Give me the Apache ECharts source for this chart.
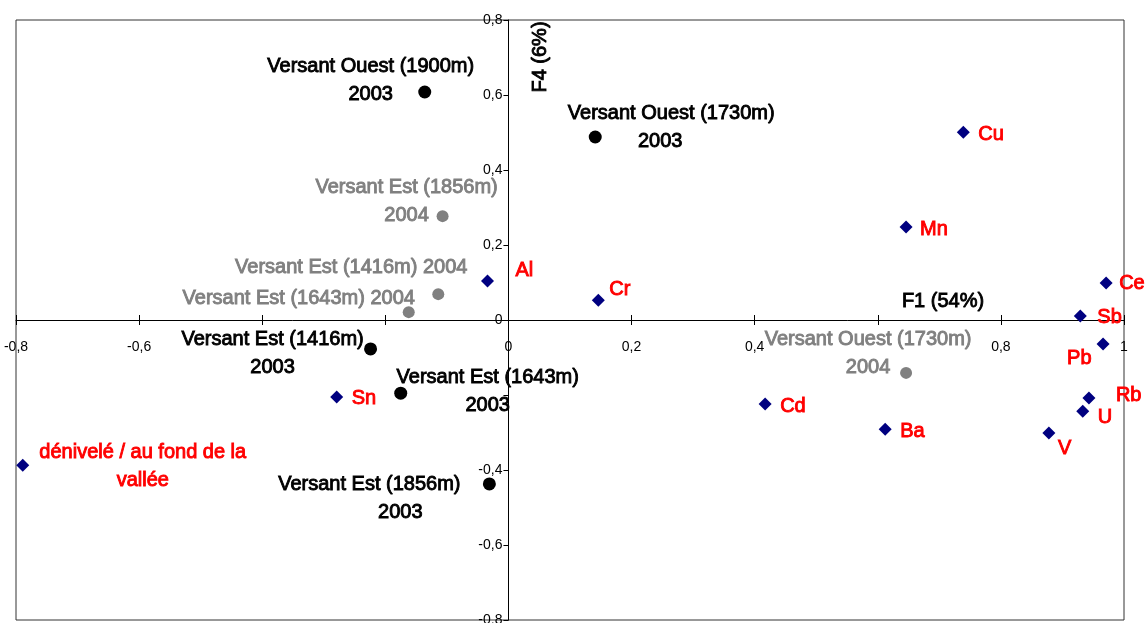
<!DOCTYPE html>
<html><head><meta charset="utf-8">
<script src="https://cdn.jsdelivr.net/npm/echarts@6/dist/echarts.min.js"></script>
<style>html,body{margin:0;padding:0;background:#fff}#c{width:1148px;height:623px}</style>
</head><body><div id="c"></div>
<script>
// ---- Data ----
const obs2003Labels = ["Versant Ouest (1900m)\n2003", "Versant Ouest (1730m)\n2003", "Versant Est (1416m)\n2003", "Versant Est (1643m)\n2003", "Versant Est (1856m)\n2003"];
const obs2003X = [-0.136, 0.141, -0.224, -0.175, -0.031];
const obs2003Y = [0.608, 0.488, -0.077, -0.195, -0.437];

const obs2004Labels = ["Versant Est (1856m)\n2004", "Versant Est (1416m) 2004", "Versant Est (1643m) 2004", "Versant Ouest (1730m)\n2004"];
const obs2004X = [-0.107, -0.114, -0.162, 0.646];
const obs2004Y = [0.277, 0.069, 0.021, -0.141];

const varLabels = ["Al", "Cr", "Cu", "Mn", "Ce", "Sb", "Pb", "Rb", "U", "V", "Ba", "Cd", "Sn", "dénivelé / au fond de la\nvallée"];
const varX = [-0.034, 0.146, 0.739, 0.646, 0.971, 0.929, 0.966, 0.943, 0.933, 0.878, 0.612, 0.417, -0.279, -0.789];
const varY = [0.104, 0.053, 0.501, 0.248, 0.099, 0.011, -0.064, -0.208, -0.243, -0.301, -0.291, -0.224, -0.205, -0.387];

const axisX = {min: -0.8, max: 1, interval: 0.2};
const axisY = {min: -0.8, max: 0.8, interval: 0.2};
// tick labels that are covered by data labels in the original picture
const hiddenXTickLabels = [-0.4, -0.2, 0.6];
const hiddenYTickLabels = [-0.2];
const xAxisTitle = "F1 (54%)";
const yAxisTitle = "F4 (6%)";

// ---- Label placement (style, not data) ----
const obs2003Offsets = [[-54, -12], [76, -10], [-98, 5], [87, -2], [-120, 15]];
const obs2003Line2Shift = [0, -22, 0, 0, 62];
const obs2004Offsets = [[-36, -15], [-87, -27], [-110, -14], [-38, -19]];
const varOffsets = [[28, -11], [11, -11], [15, 2], [14, 2], [13, 1], [17, 2], [-36, 14], [27, -3], [15, 6], [9, 16], [15, 2], [15, 2], [15, 2], [120, 1]];
const varAlign = ["left", "left", "left", "left", "left", "left", "left", "left", "left", "left", "left", "left", "left", "center"];

const FONT = "'Liberation Sans', Arial, sans-serif";
const LFS = 20;   // label font size
const near = (list, v) => list.some(h => Math.abs(h - v) < 1e-6);
const fmtNum = v => String(Math.round(v * 10) / 10).replace('.', ',');
const fmtX = v => near(hiddenXTickLabels, v) ? '' : fmtNum(v);
const fmtY = v => near(hiddenYTickLabels, v) ? '' : fmtNum(v);

const W = 1148, H = 623;
const G = {left: 16, right: 24, top: 20, bottom: 3};
const gridW = W - G.left - G.right, gridH = H - G.top - G.bottom;
// place axes through zero of the other axis
const xAxisOffset = -gridH * (0 - axisY.min) / (axisY.max - axisY.min);
const yAxisOffset = -gridW * (0 - axisX.min) / (axisX.max - axisX.min);

function txt(color, extra) {
  return Object.assign({color: color, fontFamily: FONT, fontSize: LFS, lineHeight: 28,
    textBorderColor: color, textBorderWidth: 0.9}, extra || {});
}
function baseLabel(color) {
  return Object.assign(txt(color), {show: true, position: 'inside', align: 'center', verticalAlign: 'middle'});
}

const d2003 = obs2003Labels.map((t, i) => {
  const s = obs2003Line2Shift[i];
  const parts = t.split('\n');
  return {
    value: [obs2003X[i], obs2003Y[i]],
    label: Object.assign(baseLabel('#000'), {
      formatter: '{a|' + parts[0] + '}\n{b|' + parts[1] + '}', offset: obs2003Offsets[i],
      rich: {
        a: txt('#000'),
        b: txt('#000', {padding: s > 0 ? [0, 0, 0, s] : [0, -s, 0, 0]})
      }
    })
  };
});

const d2004 = obs2004Labels.map((t, i) => ({
  value: [obs2004X[i], obs2004Y[i]],
  label: Object.assign(baseLabel('#808080'), {formatter: t, offset: obs2004Offsets[i]})
}));

const dVar = varLabels.map((t, i) => ({
  value: [varX[i], varY[i]],
  label: Object.assign(baseLabel('#ff0000'), {formatter: t, offset: varOffsets[i], align: varAlign[i]})
}));

const chart = echarts.init(document.getElementById('c'), null, {renderer: 'canvas'});
const axisCommon = {
  type: 'value', splitLine: {show: false},
  axisLine: {onZero: false, lineStyle: {color: '#000', width: 1}},
  axisTick: {show: true, length: 5, lineStyle: {color: '#000'}},
  axisLabel: {color: '#000', fontFamily: FONT, fontSize: 14}
};
chart.setOption({
  animation: false,
  backgroundColor: '#fff',
  grid: Object.assign({show: true, borderColor: '#333', borderWidth: 1, outerBoundsMode: 'none'}, G),
  xAxis: [
    Object.assign({}, axisCommon, axisX, {position: 'bottom', offset: xAxisOffset,
      axisLabel: Object.assign({}, axisCommon.axisLabel, {margin: 20, formatter: fmtX})}),
    // inner half of the crossing tick marks
    Object.assign({}, axisCommon, axisX, {position: 'bottom', offset: xAxisOffset,
      axisLine: {show: false, onZero: false}, axisLabel: {show: false},
      axisTick: {show: true, inside: true, length: 5, lineStyle: {color: '#000'}}})
  ],
  yAxis: Object.assign({}, axisCommon, axisY, {position: 'left', offset: yAxisOffset,
    axisLabel: Object.assign({}, axisCommon.axisLabel, {margin: 6, formatter: fmtY})}),
  graphic: [
    {type: 'text', x: 943, y: 301, z: 10, style: {text: xAxisTitle, fill: '#000', stroke: '#000', lineWidth: 0.9, font: '20px ' + FONT, textAlign: 'center', textVerticalAlign: 'middle'}},
    {type: 'text', x: 540, y: 57, z: 10, rotation: Math.PI / 2, style: {text: yAxisTitle, fill: '#000', stroke: '#000', lineWidth: 0.9, font: '20px ' + FONT, textAlign: 'center', textVerticalAlign: 'middle'}}
  ],
  series: [
    {name: '2003', type: 'scatter', symbol: 'circle', symbolSize: 13, itemStyle: {color: '#000', opacity: 1}, data: d2003, z: 3},
    {name: '2004', type: 'scatter', symbol: 'circle', symbolSize: 12, itemStyle: {color: '#808080', opacity: 1}, data: d2004, z: 3},
    {name: 'variables', type: 'scatter', symbol: 'diamond', symbolSize: 13, itemStyle: {color: '#000080', opacity: 1}, data: dVar, z: 4}
  ]
});
</script>
</body></html>
